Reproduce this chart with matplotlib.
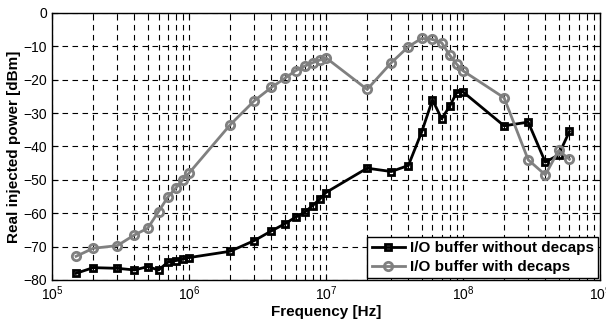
import matplotlib
matplotlib.use("Agg")
import matplotlib.pyplot as plt
from matplotlib.ticker import LogLocator, NullFormatter

plt.rcParams['font.family'] = ['Liberation Sans', 'DejaVu Sans']

# frequencies [Hz]
freq = [1.5e5, 2e5, 3e5, 4e5, 5e5, 6e5, 7e5, 8e5, 9e5, 1e6,
        2e6, 3e6, 4e6, 5e6, 6e6, 7e6, 8e6, 9e6, 1e7,
        2e7, 3e7, 4e7, 5e7, 6e7, 7e7, 8e7, 9e7, 1e8,
        2e8, 3e8, 4e8, 5e8, 6e8]

# real injected power [dBm]
no_decaps = [-78, -76.3, -76.5, -77, -76, -77, -74.7, -74.2, -73.8, -73.3,
             -71.4, -68.2, -65.3, -63.2, -61.2, -59.7, -57.7, -55.8, -53.8,
             -46.5, -47.5, -45.7, -35.7, -26, -31.7, -28, -23.9, -23.6,
             -33.8, -32.7, -44.7, -42.5, -35.5]
with_decaps = [-72.9, -70.5, -69.7, -66.5, -64.5, -59.5, -55.2, -52.5, -50, -48,
               -33.5, -26.3, -22.3, -19.6, -17.3, -15.9, -14.9, -14.1, -13.4,
               -22.9, -14.9, -10.1, -7.6, -7.9, -8.9, -12.6, -15.3, -17.3,
               -25.4, -44, -48.5, -41.2, -43.8]

labels = ['I/O buffer without decaps', 'I/O buffer with decaps']

fig = plt.figure(figsize=(6.06, 3.25), dpi=100)
ax = fig.add_axes([0.0858, 0.1385, 0.904, 0.8215])

gray = '#808080'
ax.plot(freq, no_decaps, color='black', lw=2, marker='s', ms=5,
        mfc='none', mew=2, label=labels[0], zorder=3)
ax.plot(freq, with_decaps, color=gray, lw=2, marker='o', ms=6,
        mfc='none', mew=2, label=labels[1], zorder=3)

ax.set_xscale('log')
ax.set_xlim(1e5, 1e9)
ax.set_ylim(-80, 0)
ax.set_yticks(range(-80, 1, 10))
ax.xaxis.set_major_locator(LogLocator(base=10, numticks=10))
ax.xaxis.set_minor_locator(LogLocator(base=10, subs=range(2, 10), numticks=50))
ax.xaxis.set_minor_formatter(NullFormatter())

ax.grid(True, which='major', color='black', ls=(0, (5, 4)), lw=0.8)
ax.grid(True, which='minor', axis='x', color='black', ls=(0, (5, 4)), lw=0.8)

ax.tick_params(which='both', direction='in', top=True, right=True, labelsize=10)
ax.tick_params(which='major', length=4)
ax.tick_params(which='minor', length=2)
for s in ax.spines.values():
    s.set_linewidth(1)

ax.set_xlabel('Frequency [Hz]', fontsize=11, fontweight='bold', labelpad=1)
ax.set_ylabel('Real injected power [dBm]', fontsize=11, fontweight='bold', labelpad=2)

leg = ax.legend(loc='lower right', prop={'weight': 'bold', 'size': 11},
                fancybox=False, framealpha=1, edgecolor='black',
                borderaxespad=0.1, handlelength=2.2, handletextpad=0.3,
                borderpad=0.3, labelspacing=0.3)
leg.get_frame().set_linewidth(1)

fig.savefig('out.png', dpi=100)
